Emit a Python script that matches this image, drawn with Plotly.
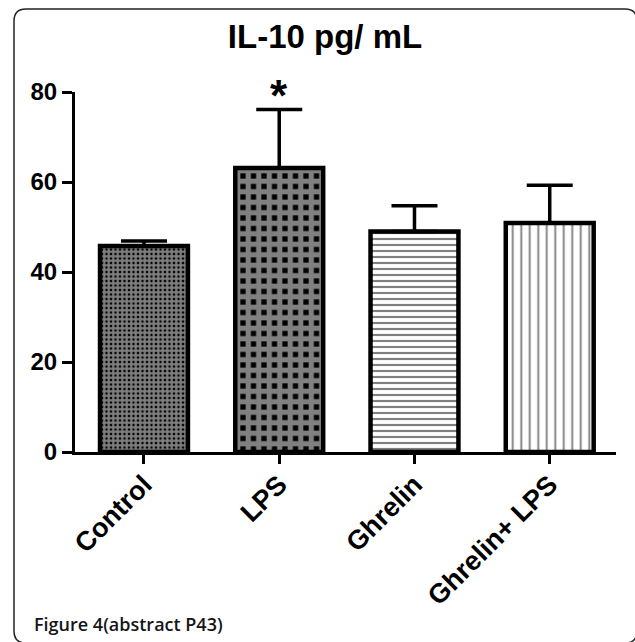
import plotly.graph_objects as go

# ---- data ----
categories = ["Control", "LPS", "Ghrelin", "Ghrelin+ LPS"]
means = [45.8, 63.1, 49.0, 50.9]
sem_upper = [1.1, 13.0, 5.7, 8.4]
y_ticks = [0, 20, 40, 60, 80]
title_text = "IL-10 pg/ mL"
star_text = "*"
star_category = "LPS"
caption_text = "Figure 4(abstract P43)"

# ---- layout geometry (pixels) ----
W, H = 635, 642
ML, MR, MT, MB = 75, 19, 92, 190
PW = W - ML - MR
PH = H - MT - MB


def px_x(px):
    return (px - ML) / PW


def px_y(py):
    return (H - MB - py) / PH


fig = go.Figure()
fig.add_trace(go.Bar(
    x=categories,
    y=means,
    width=0.65,
    marker=dict(
        color="white",
        line=dict(color="black", width=4.5),
        pattern=dict(
            shape=["+", "+", "-", "|"],
            size=[4.5, 10.5, 6, 8.5],
            solidity=[0.75, 0.75, 0.36, 0.22],
            fgcolor=["white", "white", "black", "black"],
            bgcolor=["black", "black", "white", "white"],
            fillmode="overlay",
        ),
    ),
    error_y=dict(
        type="data",
        symmetric=False,
        array=sem_upper,
        arrayminus=[0] * len(sem_upper),
        color="black",
        thickness=3.5,
        width=23,
    ),
    showlegend=False,
))

star_idx = categories.index(star_category)
fig.add_annotation(
    x=star_category, y=means[star_idx] + sem_upper[star_idx],
    xref="x", yref="y", text=star_text, showarrow=False,
    yanchor="bottom", yshift=-12,
    font=dict(family="Liberation Sans", size=44, color="black", weight="bold"),
)

fig.add_annotation(
    x=px_x(32), y=px_y(624), xref="paper", yref="paper",
    xanchor="left", yanchor="middle", showarrow=False,
    text=caption_text,
    font=dict(family="Open Sans", size=18, color="#151515", weight=600),
)

# rounded frame
L, T, R, B, r = 14, 9, 637, 643, 12
path = (
    f"M{px_x(L + r)},{px_y(T)} L{px_x(R - r)},{px_y(T)} "
    f"Q{px_x(R)},{px_y(T)} {px_x(R)},{px_y(T + r)} "
    f"L{px_x(R)},{px_y(B - r)} Q{px_x(R)},{px_y(B)} {px_x(R - r)},{px_y(B)} "
    f"L{px_x(L + r)},{px_y(B)} Q{px_x(L)},{px_y(B)} {px_x(L)},{px_y(B - r)} "
    f"L{px_x(L)},{px_y(T + r)} Q{px_x(L)},{px_y(T)} {px_x(L + r)},{px_y(T)} Z"
)
fig.add_shape(type="path", path=path, xref="paper", yref="paper",
              line=dict(color="#222222", width=1.5), layer="below")

fig.update_layout(
    width=W, height=H,
    margin=dict(l=ML, r=MR, t=MT, b=MB, autoexpand=False),
    paper_bgcolor="white", plot_bgcolor="white",
    title=dict(
        text=title_text, x=325 / W, xanchor="center", xref="container",
        y=1 - 36 / H, yanchor="middle", yref="container",
        font=dict(family="Liberation Sans", size=33, color="black", weight="bold"),
    ),
    font=dict(family="Liberation Sans", color="black"),
)
fig.update_xaxes(
    range=[-0.51, 3.49], showline=True, linewidth=3, linecolor="black",
    ticks="outside", ticklen=9, tickwidth=3, tickcolor="black",
    tickangle=-45, showgrid=False, zeroline=False, ticklabelstandoff=-6,
    tickfont=dict(family="Liberation Sans", size=27, color="black", weight="bold"),
)
fig.update_yaxes(
    range=[0, 80], tickvals=y_ticks, showline=True, linewidth=3, linecolor="black",
    ticks="outside", ticklen=10, tickwidth=3, tickcolor="black",
    showgrid=False, zeroline=False,
    tickfont=dict(family="Liberation Sans", size=24, color="black", weight="bold"),
)

fig.write_html(
    "out.html",
    config={"displayModeBar": False},
    post_script="document.body.style.margin='0';"
                "document.documentElement.style.overflow='hidden';",
)
